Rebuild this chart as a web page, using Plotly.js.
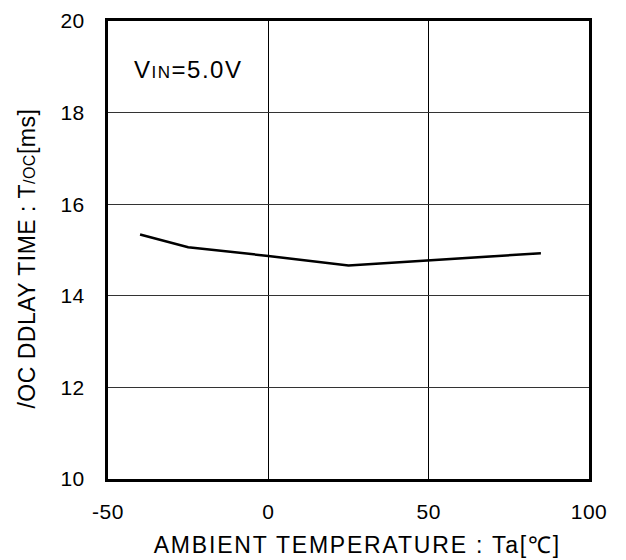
<!DOCTYPE html>
<html><head><meta charset="utf-8">
<script src="https://cdn.plot.ly/plotly-3.0.1.min.js"></script>
<style>body{margin:0;background:#fff}#c{width:626px;height:560px}
.xtick text,.ytick text{letter-spacing:0.5px}
g.annotation[data-index="0"] text{letter-spacing:1.5px}
g.annotation[data-index="1"] text{letter-spacing:1.8px}
g.annotation[data-index="2"] text{letter-spacing:0.5px}
</style>
</head><body><div id="c"></div>
<script>
var temperature = [-40, -25, 0, 25, 85];
var delayTime = [15.34, 15.06, 14.87, 14.66, 14.93];
var xTicks = [-50, 0, 50, 100];
var xTickText = ['-50', '0', '50', '100'];
var yTicks = [10, 12, 14, 16, 18, 20];

var fam = 'Liberation Sans, Arial, sans-serif';
var tickFont = {family: fam, size: 21, color: '#000'};
var titleFont = {family: fam, size: 23, color: '#000'};
Plotly.newPlot('c', [{
  x: temperature, y: delayTime, type: 'scatter', mode: 'lines',
  line: {color: '#000', width: 2.5}, hoverinfo: 'none'
}], {
  width: 626, height: 560,
  margin: {l: 108, r: 37, t: 21, b: 81},
  paper_bgcolor: '#fff', plot_bgcolor: '#fff',
  font: tickFont, showlegend: false,
  xaxis: {range: [-50, 100], tickvals: xTicks, ticktext: xTickText, ticks: '', showgrid: true,
    gridcolor: '#000', gridwidth: 1, zeroline: false,
    showline: true, linecolor: '#000', linewidth: 3, mirror: true,
    tickfont: tickFont, ticklabelstandoff: 12},
  yaxis: {range: [10, 20], tickvals: yTicks, ticks: '', showgrid: true,
    gridcolor: '#333', gridwidth: 1, zeroline: false,
    showline: true, linecolor: '#000', linewidth: 3, mirror: true,
    tickfont: tickFont, ticklabelstandoff: 16},
  annotations: [
    {xref: 'paper', yref: 'paper', x: 0.062, y: 0.894, xanchor: 'left', yanchor: 'middle',
     showarrow: false, text: 'V<span style="font-size:17px">IN</span>=5.0V',
     font: {family: fam, size: 24, color: '#000'}},
    {xref: 'paper', yref: 'paper', x: 0.5, xshift: 9, y: -0.144, xanchor: 'center', yanchor: 'middle',
     showarrow: false, text: 'AMBIENT TEMPERATURE : Ta[℃]', font: titleFont},
    {xref: 'paper', yref: 'paper', x: -0.168, y: 0.48, xanchor: 'center', yanchor: 'middle', textangle: -90,
     showarrow: false, text: '/OC DDLAY TIME : T<span style="font-size:16px">/OC</span>[ms]', font: titleFont}
  ]
}, {staticPlot: true});
</script></body></html>
